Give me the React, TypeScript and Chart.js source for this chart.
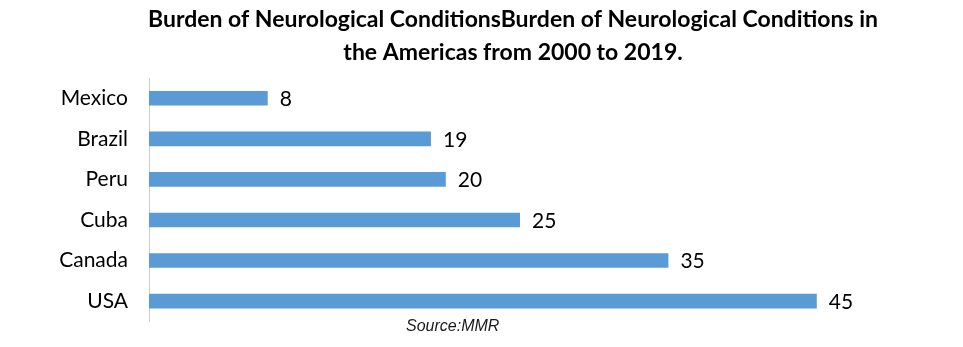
import React, { useEffect, useRef } from "react";
import { Chart, registerables } from "chart.js";

Chart.register(...registerables);

const categories = ["Mexico", "Brazil", "Peru", "Cuba", "Canada", "USA"];
const values = [8, 19, 20, 25, 35, 45];
const titleLines = [
  "Burden of Neurological ConditionsBurden of Neurological Conditions in",
  "the Americas from 2000 to 2019.",
];
const sourceText = "Source:MMR";

const BAR_COLOR = "#5B9BD5";
const LABEL_FONT = "Lato";

export default function App() {
  const canvasRef = useRef<HTMLCanvasElement | null>(null);

  useEffect(() => {
    const canvas = canvasRef.current;
    if (!canvas) return;

    const overlay = {
      id: "overlay",
      afterDatasetsDraw(chart: any) {
        const ctx = chart.ctx;
        ctx.save();
        // data labels
        const meta = chart.getDatasetMeta(0);
        ctx.fillStyle = "#000";
        ctx.font = `21px ${LABEL_FONT}`;
        ctx.textAlign = "left";
        ctx.textBaseline = "middle";
        meta.data.forEach((el: any, i: number) => {
          ctx.fillText(String(values[i]), el.x + 12, el.y + 1);
        });
        // title
        ctx.font = `bold 23px ${LABEL_FONT}`;
        ctx.textAlign = "center";
        ctx.fillText(titleLines[0], 513, 20);
        ctx.fillText(titleLines[1], 513, 53);
        // source
        ctx.font = "italic 16px 'Liberation Sans'";
        ctx.textAlign = "left";
        ctx.fillStyle = "#1a1a1a";
        ctx.fillText(sourceText, 406, 327);
        ctx.restore();
      },
    };

    const chart = new Chart(canvas, {
      type: "bar",
      data: {
        labels: categories,
        datasets: [
          {
            data: values,
            backgroundColor: BAR_COLOR,
            borderWidth: 0,
            barPercentage: 0.6,
            categoryPercentage: 0.6,
          },
        ],
      },
      options: {
        indexAxis: "y",
        animation: false,
        responsive: false,
        maintainAspectRatio: false,
        layout: { padding: { top: 78, bottom: 21, right: 72, left: 0 } },
        plugins: {
          legend: { display: false },
          title: { display: false },
          tooltip: { enabled: false },
        },
        scales: {
          x: {
            display: false,
            min: 0,
            max: 50,
          },
          y: {
            grid: { display: false },
            border: { display: true, color: "#D0D0D0", width: 1 },
            ticks: {
              color: "#000",
              font: { family: LABEL_FONT, size: 21 },
              padding: 13,
            },
            afterFit(scale: any) {
              scale.width = 149;
            },
          },
        },
      },
      plugins: [overlay],
    });

    return () => chart.destroy();
  }, []);

  return (
    <div style={{ position: "fixed", left: 0, top: 0, width: 963, height: 347, background: "#fff" }}>
      <canvas ref={canvasRef} width={963} height={347} style={{ width: 963, height: 347 }} />
    </div>
  );
}
